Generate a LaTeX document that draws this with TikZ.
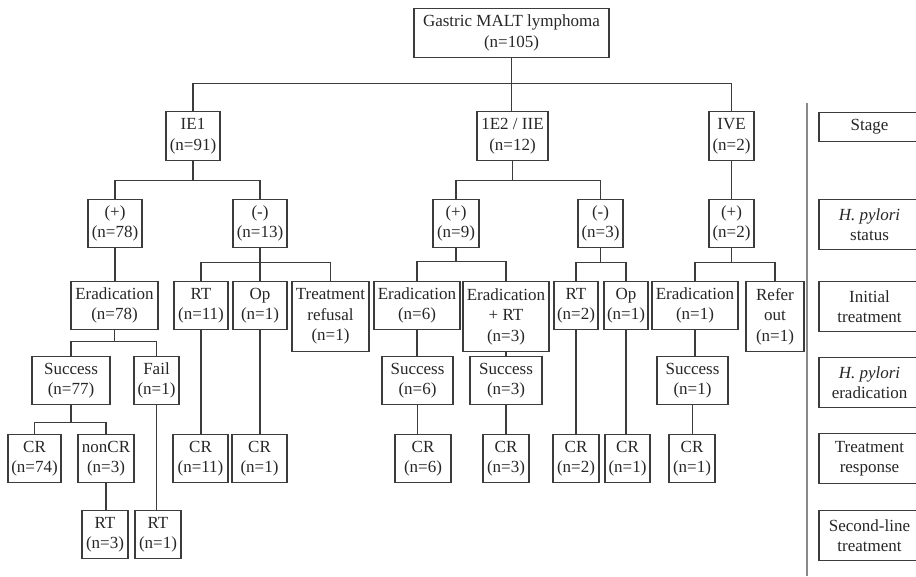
\documentclass[tikz,border=0pt]{standalone}
\usepackage{fontspec}
\setmainfont{Liberation Serif}
\definecolor{boxgray}{HTML}{3C3C3C}
\definecolor{rulegray}{HTML}{8A8A8A}
\begin{document}
\begin{tikzpicture}[x=1pt, y=-1pt,
  box/.style={draw=boxgray, line width=1.2pt, align=center, anchor=north, inner sep=2pt, minimum height=48pt, font=\fontsize{17}{20.5}\selectfont, text=black!85},
  tall/.style={box, minimum height=70pt},
  key/.style={box, minimum width=101pt, minimum height=50pt},
  link/.style={draw=boxgray, line width=1.2pt}]
\clip (0,0) rectangle (916,576);
\node[box, minimum height=49pt, minimum width=195pt] (root) at (511.5,8) {Gastric MALT lymphoma\\(n=105)};
\node[box, minimum height=49pt, minimum width=54pt] (ie1) at (193,111) {IE1\\(n=91)};
\node[box, minimum height=49pt, minimum width=71pt] (ie2) at (512.5,111) {1E2 / IIE\\(n=12)};
\node[box, minimum height=49pt, minimum width=45pt] (ive) at (731.5,111) {IVE\\(n=2)};
\node[box, minimum width=54pt] (hpa) at (115,199) {(+)\\(n=78)};
\node[box, minimum width=54pt] (hpb) at (260,199) {(-)\\(n=13)};
\node[box, minimum width=46pt] (hpc) at (456,199) {(+)\\(n=9)};
\node[box, minimum width=45pt] (hpd) at (600.5,199) {(-)\\(n=3)};
\node[box, minimum width=45pt] (hpe) at (731.5,199) {(+)\\(n=2)};
\node[box, minimum width=87pt] (era) at (114.5,281) {Eradication\\(n=78)};
\node[box, minimum width=54pt] (rta) at (201,281) {RT\\(n=11)};
\node[box, minimum width=54pt] (opa) at (260,281) {Op\\(n=1)};
\node[tall, minimum width=77pt] (refus) at (330.5,281) {Treatment\\refusal\\(n=1)};
\node[box, minimum width=86pt] (erb) at (417,281) {Eradication\\(n=6)};
\node[tall, minimum width=86pt] (erc) at (506,281) {Eradication\\+ RT\\(n=3)};
\node[box, minimum width=44pt] (rtb) at (576,281) {RT\\(n=2)};
\node[box, minimum width=44pt] (opb) at (626,281) {Op\\(n=1)};
\node[box, minimum width=86pt] (erd) at (695,281) {Eradication\\(n=1)};
\node[tall, minimum width=58pt] (refer) at (775,281) {Refer\\out\\(n=1)};
\node[box, minimum width=78pt] (suca) at (71,356) {Success\\(n=77)};
\node[box, minimum width=45pt] (fail) at (156.5,356) {Fail\\(n=1)};
\node[box, minimum width=71pt] (sucb) at (417.5,356) {Success\\(n=6)};
\node[box, minimum width=72pt] (succ) at (506,356) {Success\\(n=3)};
\node[box, minimum width=71pt] (sucd) at (692.5,356) {Success\\(n=1)};
\node[box, minimum width=53pt] (cra) at (34.5,434) {CR\\(n=74)};
\node[box, minimum width=56pt] (noncr) at (106,434) {nonCR\\(n=3)};
\node[box, minimum width=55pt] (crb) at (200.5,434) {CR\\(n=11)};
\node[box, minimum width=55pt] (crc) at (259.5,434) {CR\\(n=1)};
\node[box, minimum width=56pt] (crd) at (423,434) {CR\\(n=6)};
\node[box, minimum width=46pt] (cre) at (506,434) {CR\\(n=3)};
\node[box, minimum width=46pt] (crf) at (576,434) {CR\\(n=2)};
\node[box, minimum width=45pt] (crg) at (627.5,434) {CR\\(n=1)};
\node[box, minimum width=46pt] (crh) at (692,434) {CR\\(n=1)};
\node[box, minimum width=46pt] (rtc) at (105,510) {RT\\(n=3)};
\node[box, minimum width=46pt] (rtd) at (158,510) {RT\\(n=1)};
\draw[link] (root.south) -- ++(0,25) -| (ie1.north);
\draw[link] (root.south) -- (root.south |- ie2.north);
\draw[link] (root.south) -- ++(0,25) -| (ive.north);
\draw[link] (ie1.south) -- ++(0,19) -| (hpa.north);
\draw[link] (ie1.south) -- ++(0,19) -| (hpb.north);
\draw[link] (ie2.south) -- ++(0,19) -| (hpc.north);
\draw[link] (ie2.south) -- ++(0,19) -| (hpd.north);
\draw[link] (ive.south) -- (hpe.north);
\draw[link] (hpa.south) -- (hpa.south |- era.north);
\draw[link] (hpb.south) -- ++(0,14) -| (rta.north);
\draw[link] (hpb.south) -- (opa.north);
\draw[link] (hpb.south) -- ++(0,14) -| (refus.north);
\draw[link] (hpc.south) -- ++(0,13) -| (erb.north);
\draw[link] (hpc.south) -- ++(0,13) -| (erc.north);
\draw[link] (hpd.south) -- ++(0,14) -| (rtb.north);
\draw[link] (hpd.south) -- ++(0,14) -| (opb.north);
\draw[link] (hpe.south) -- ++(0,14) -| (erd.north);
\draw[link] (hpe.south) -- ++(0,14) -| (refer.north);
\draw[link] (era.south) -- ++(0,11) -| (suca.north);
\draw[link] (era.south) -- ++(0,11) -| (fail.north);
\draw[link] (erb.south) -- (erb.south |- sucb.north);
\draw[link] (erc.south) -- (succ.north);
\draw[link] (erd.south) -- (erd.south |- sucd.north);
\draw[link] (suca.south) -- ++(0,17) -| (cra.north);
\draw[link] (suca.south) -- ++(0,17) -| (noncr.north);
\draw[link] (fail.south) -- (fail.south |- rtd.north);
\draw[link] (rta.south) -- (rta.south |- crb.north);
\draw[link] (opa.south) -- (opa.south |- crc.north);
\draw[link] (sucb.south) -- (sucb.south |- crd.north);
\draw[link] (succ.south) -- (cre.north);
\draw[link] (rtb.south) -- (crf.north);
\draw[link] (opb.south) -- (opb.south |- crg.north);
\draw[link] (sucd.south) -- (sucd.south |- crh.north);
\draw[link] (noncr.south) -- (noncr.south |- rtc.north);
\draw[draw=rulegray, line width=1.5pt] (807,103) -- (807,576);
\node[key, minimum height=29pt] (kstage) at (869.5,112) {Stage};
\node[key] (kstatus) at (869.5,199) {\textit{H. pylori}\\status};
\node[key] (kinit) at (869.5,281) {Initial\\treatment};
\node[key] (kerad) at (869.5,357) {\textit{H. pylori}\\eradication};
\node[key] (kresp) at (869.5,433) {Treatment\\response};
\node[key] (ksecond) at (869.5,510) {Second-line\\treatment};
\end{tikzpicture}
\end{document}
